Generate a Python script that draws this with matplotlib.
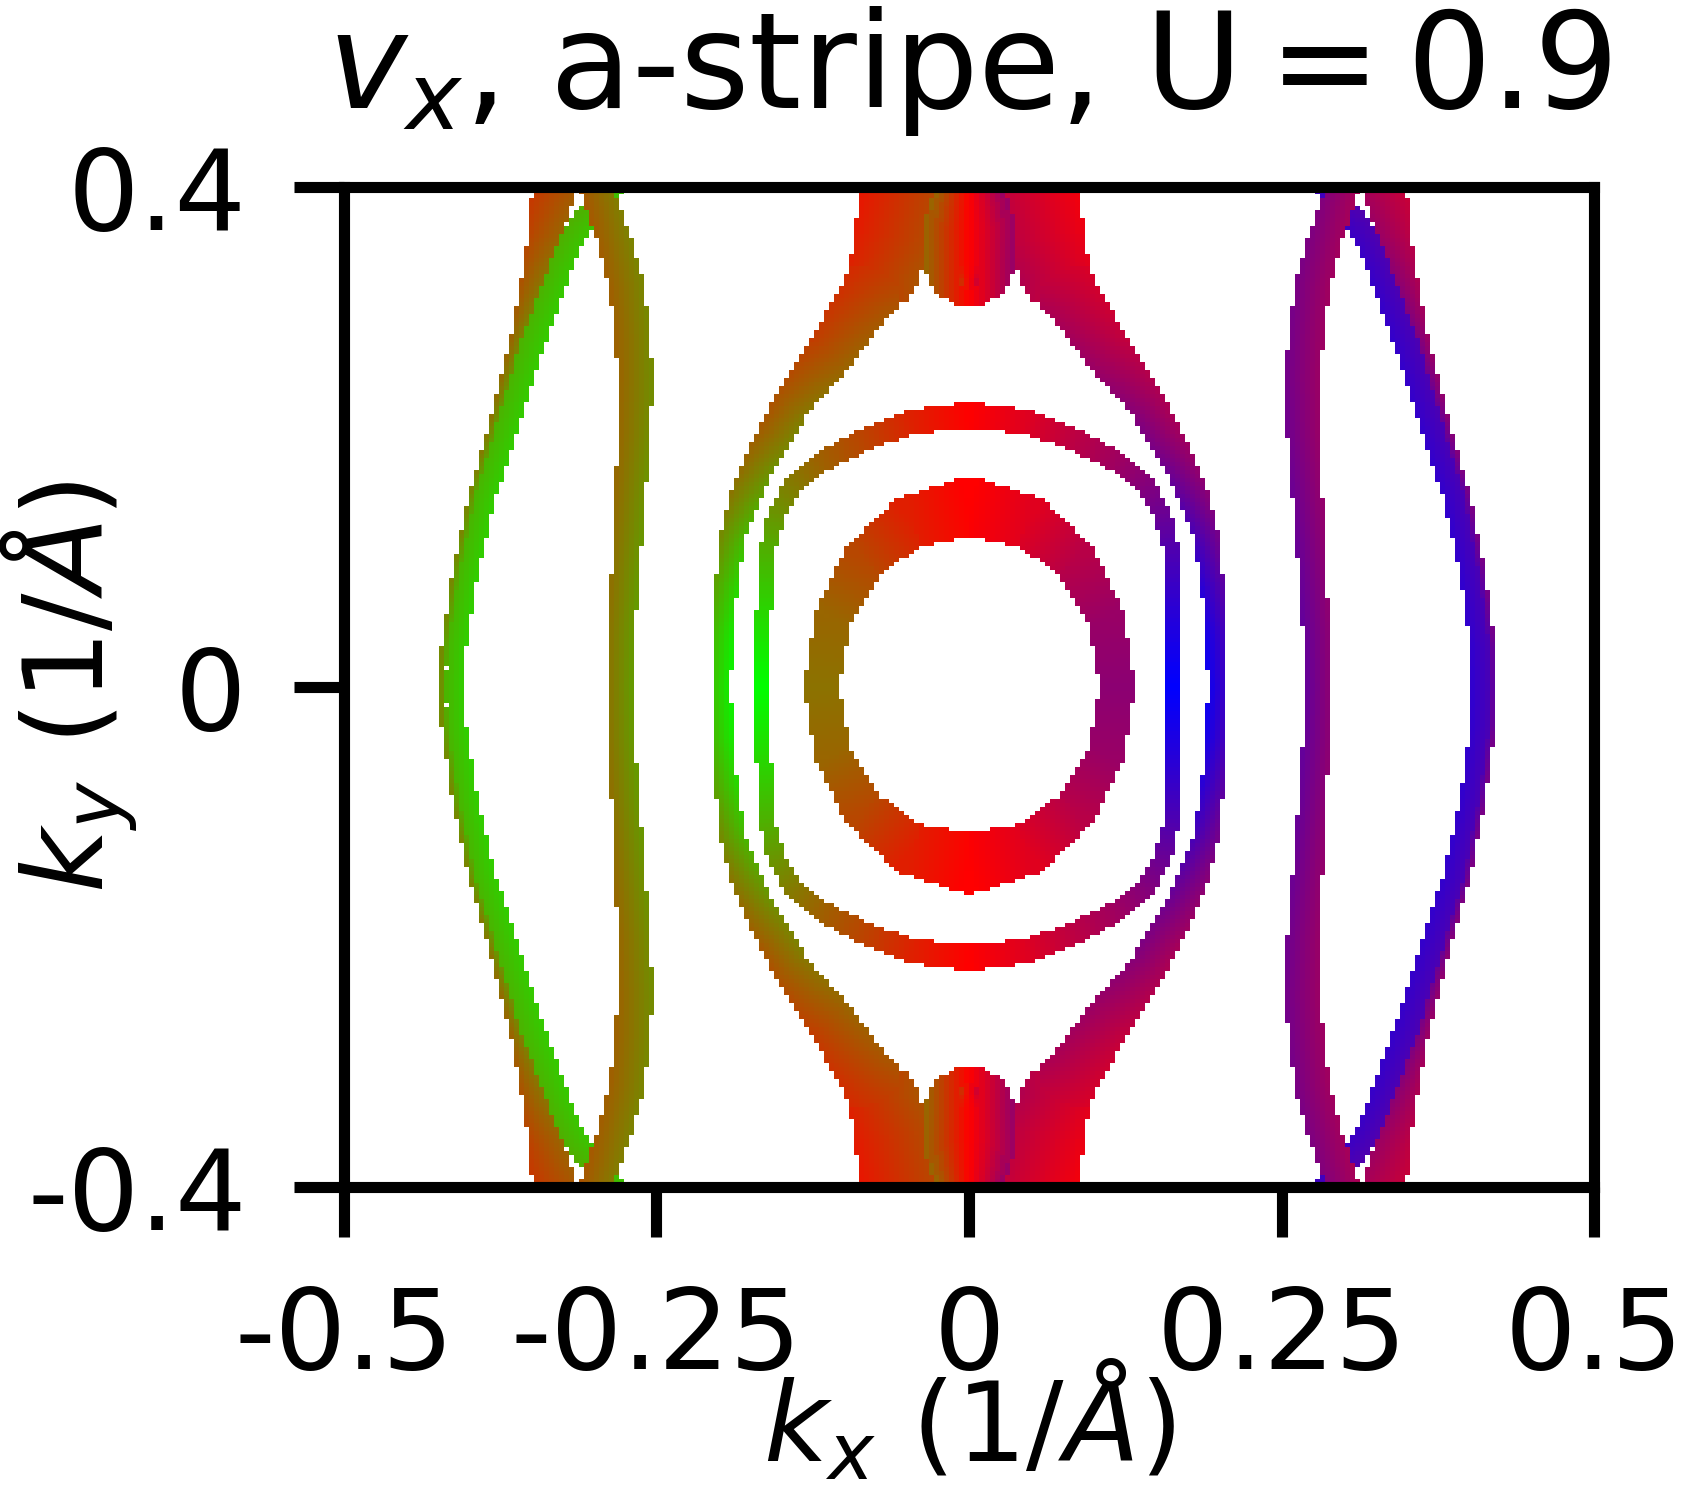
import numpy as np
import matplotlib
matplotlib.use('Agg')
import matplotlib.pyplot as plt

# Fermi-surface sheets.
# each row: (kx, ky, half width of the drawn band, v_x), k in 1/Å,
# v_x scaled to [-1, 1]: -1 pure green, 0 red, +1 pure blue
ring_inner = [
    (0.000, 0.143, 0.024, 0.00), (-0.046, 0.132, 0.021, -0.12),
    (-0.084, 0.101, 0.017, -0.28), (-0.109, 0.055, 0.0145, -0.40),
    (-0.118, 0.000, 0.014, -0.45), (-0.109, -0.054, 0.0145, -0.40),
    (-0.084, -0.099, 0.017, -0.28), (-0.046, -0.130, 0.021, -0.12),
    (0.000, -0.141, 0.024, 0.00), (0.046, -0.130, 0.021, 0.12),
    (0.084, -0.099, 0.017, 0.28), (0.109, -0.054, 0.0145, 0.40),
    (0.118, 0.000, 0.014, 0.45), (0.109, 0.055, 0.0145, 0.40),
    (0.084, 0.101, 0.017, 0.28), (0.046, 0.132, 0.021, 0.12),
    (0.000, 0.143, 0.024, 0.00),
]

ring_mid = [
    (0.000, 0.217, 0.0105, 0.00), (-0.046, 0.211, 0.0098, -0.13),
    (-0.082, 0.198, 0.0090, -0.26), (-0.118, 0.179, 0.0080, -0.38),
    (-0.140, 0.161, 0.0074, -0.48), (-0.154, 0.138, 0.0068, -0.58),
    (-0.162, 0.105, 0.0063, -0.70), (-0.164, 0.060, 0.0060, -0.84),
    (-0.164, 0.000, 0.0060, -1.00), (-0.164, -0.060, 0.0060, -0.84),
    (-0.162, -0.105, 0.0063, -0.70), (-0.154, -0.138, 0.0068, -0.58),
    (-0.140, -0.161, 0.0074, -0.48), (-0.118, -0.179, 0.0080, -0.38),
    (-0.082, -0.198, 0.0090, -0.26), (-0.046, -0.211, 0.0098, -0.13),
    (0.000, -0.217, 0.0105, 0.00), (0.046, -0.211, 0.0098, 0.13),
    (0.082, -0.198, 0.0090, 0.26), (0.118, -0.179, 0.0080, 0.38),
    (0.140, -0.161, 0.0074, 0.48), (0.154, -0.138, 0.0068, 0.58),
    (0.162, -0.105, 0.0063, 0.70), (0.164, -0.060, 0.0060, 0.84),
    (0.164, 0.000, 0.0060, 1.00), (0.164, 0.060, 0.0060, 0.84),
    (0.162, 0.105, 0.0063, 0.70), (0.154, 0.138, 0.0068, 0.58),
    (0.140, 0.161, 0.0074, 0.48), (0.118, 0.179, 0.0080, 0.38),
    (0.082, 0.198, 0.0090, 0.26), (0.046, 0.211, 0.0098, 0.13),
    (0.000, 0.217, 0.0105, 0.00),
]

outer_left = [
    (-0.057, 0.400, 0.029, -0.18), (-0.062, 0.360, 0.030, -0.20),
    (-0.068, 0.330, 0.028, -0.23), (-0.082, 0.310, 0.0225, -0.26),
    (-0.096, 0.289, 0.021, -0.29), (-0.111, 0.266, 0.019, -0.32),
    (-0.127, 0.246, 0.017, -0.36), (-0.143, 0.224, 0.015, -0.40),
    (-0.155, 0.200, 0.014, -0.44), (-0.167, 0.180, 0.013, -0.48),
    (-0.179, 0.152, 0.012, -0.55), (-0.189, 0.119, 0.0098, -0.64),
    (-0.194, 0.080, 0.009, -0.74), (-0.197, 0.040, 0.008, -0.82),
    (-0.198, 0.000, 0.0076, -0.85), (-0.197, -0.040, 0.008, -0.82),
    (-0.194, -0.080, 0.009, -0.74), (-0.189, -0.119, 0.0098, -0.64),
    (-0.179, -0.152, 0.012, -0.55), (-0.167, -0.180, 0.013, -0.48),
    (-0.155, -0.200, 0.014, -0.44), (-0.143, -0.224, 0.015, -0.40),
    (-0.127, -0.246, 0.017, -0.36), (-0.111, -0.266, 0.019, -0.32),
    (-0.096, -0.289, 0.021, -0.29), (-0.082, -0.310, 0.0225, -0.26),
    (-0.068, -0.330, 0.028, -0.23), (-0.062, -0.360, 0.030, -0.20),
    (-0.057, -0.400, 0.029, -0.18),
]

outer_right = [
    (0.057, 0.400, 0.029, 0.14), (0.062, 0.360, 0.030, 0.17),
    (0.068, 0.330, 0.028, 0.21), (0.082, 0.310, 0.0225, 0.25),
    (0.096, 0.289, 0.021, 0.28), (0.111, 0.266, 0.019, 0.32),
    (0.127, 0.246, 0.017, 0.36), (0.143, 0.224, 0.015, 0.40),
    (0.155, 0.200, 0.014, 0.44), (0.167, 0.180, 0.013, 0.48),
    (0.179, 0.152, 0.012, 0.55), (0.189, 0.119, 0.0098, 0.64),
    (0.194, 0.080, 0.009, 0.74), (0.197, 0.040, 0.008, 0.82),
    (0.198, 0.000, 0.0076, 0.85), (0.197, -0.040, 0.008, 0.82),
    (0.194, -0.080, 0.009, 0.74), (0.189, -0.119, 0.0098, 0.64),
    (0.179, -0.152, 0.012, 0.55), (0.167, -0.180, 0.013, 0.48),
    (0.155, -0.200, 0.014, 0.44), (0.143, -0.224, 0.015, 0.40),
    (0.127, -0.246, 0.017, 0.36), (0.111, -0.266, 0.019, 0.32),
    (0.096, -0.289, 0.021, 0.28), (0.082, -0.310, 0.0225, 0.25),
    (0.068, -0.330, 0.028, 0.21), (0.062, -0.360, 0.030, 0.17),
    (0.057, -0.400, 0.029, 0.14),
]

pocket_top = [
    (0.000, 0.325, 0.014, 0.0), (0.000, 0.340, 0.036, 0.0),
    (0.000, 0.362, 0.037, 0.0), (0.000, 0.378, 0.032, 0.0),
    (0.000, 0.400, 0.026, 0.0),
]
pocket_bottom = [
    (0.000, -0.325, 0.014, 0.0), (0.000, -0.340, 0.036, 0.0),
    (0.000, -0.362, 0.037, 0.0), (0.000, -0.378, 0.032, 0.0),
    (0.000, -0.400, 0.026, 0.0),
]

# left lens: curved branch, its reddish outer edge, straight branch
lens_l_curved = [
    (-0.285, 0.400, 0.0085, -0.72), (-0.301, 0.382, 0.009, -0.72),
    (-0.315, 0.363, 0.0093, -0.73), (-0.3275, 0.334, 0.0095, -0.74),
    (-0.347, 0.280, 0.0097, -0.75), (-0.366, 0.220, 0.0092, -0.75),
    (-0.387, 0.151, 0.0082, -0.76), (-0.401, 0.088, 0.0076, -0.76),
    (-0.410, 0.030, 0.0074, -0.76), (-0.411, 0.000, 0.0074, -0.76),
    (-0.410, -0.030, 0.0074, -0.76), (-0.401, -0.088, 0.0076, -0.76),
    (-0.387, -0.151, 0.0082, -0.76), (-0.366, -0.220, 0.0092, -0.75),
    (-0.347, -0.280, 0.0097, -0.75), (-0.3275, -0.334, 0.0095, -0.74),
    (-0.315, -0.363, 0.0093, -0.73), (-0.301, -0.382, 0.009, -0.72),
    (-0.285, -0.400, 0.0085, -0.72),
]
lens_l_edge = [
    (-0.3315, 0.400, 0.018, -0.28), (-0.339, 0.363, 0.013, -0.33),
    (-0.347, 0.334, 0.0095, -0.38), (-0.362, 0.280, 0.0045, -0.45),
    (-0.378, 0.220, 0.0028, -0.52), (-0.398, 0.151, 0.0025, -0.58),
    (-0.4110, 0.088, 0.0025, -0.60), (-0.4200, 0.030, 0.0025, -0.60),
    (-0.4210, 0.000, 0.0025, -0.60), (-0.4200, -0.030, 0.0025, -0.60),
    (-0.4110, -0.088, 0.0025, -0.60), (-0.398, -0.151, 0.0025, -0.58),
    (-0.378, -0.220, 0.0028, -0.52), (-0.362, -0.280, 0.0045, -0.45),
    (-0.347, -0.334, 0.0095, -0.38), (-0.339, -0.363, 0.013, -0.33),
    (-0.3315, -0.400, 0.018, -0.28),
]
lens_l_straight = [
    (-0.300, 0.400, 0.012, -0.40), (-0.292, 0.380, 0.013, -0.42),
    (-0.283, 0.355, 0.0135, -0.44), (-0.274, 0.320, 0.014, -0.45),
    (-0.269, 0.280, 0.014, -0.46), (-0.267, 0.246, 0.014, -0.47),
    (-0.268, 0.200, 0.013, -0.48), (-0.271, 0.150, 0.012, -0.50),
    (-0.275, 0.090, 0.011, -0.52), (-0.278, 0.040, 0.0105, -0.53),
    (-0.279, 0.000, 0.010, -0.53), (-0.278, -0.040, 0.0105, -0.53),
    (-0.275, -0.090, 0.011, -0.52), (-0.271, -0.150, 0.012, -0.50),
    (-0.268, -0.200, 0.013, -0.48), (-0.267, -0.246, 0.014, -0.47),
    (-0.269, -0.280, 0.014, -0.46), (-0.274, -0.320, 0.014, -0.45),
    (-0.283, -0.355, 0.0135, -0.44), (-0.292, -0.380, 0.013, -0.42),
    (-0.300, -0.400, 0.012, -0.40),
]

# right lens
lens_r_curved = [
    (0.285, 0.400, 0.0085, 0.72), (0.301, 0.382, 0.009, 0.72),
    (0.315, 0.363, 0.0093, 0.73), (0.3275, 0.334, 0.0095, 0.74),
    (0.347, 0.280, 0.0097, 0.75), (0.366, 0.220, 0.0092, 0.75),
    (0.387, 0.151, 0.0082, 0.76), (0.400, 0.088, 0.0076, 0.76),
    (0.408, 0.030, 0.0074, 0.76), (0.409, 0.000, 0.0074, 0.76),
    (0.408, -0.030, 0.0074, 0.76), (0.400, -0.088, 0.0076, 0.76),
    (0.387, -0.151, 0.0082, 0.76), (0.366, -0.220, 0.0092, 0.75),
    (0.347, -0.280, 0.0097, 0.75), (0.3275, -0.334, 0.0095, 0.74),
    (0.315, -0.363, 0.0093, 0.73), (0.301, -0.382, 0.009, 0.72),
    (0.285, -0.400, 0.0085, 0.72),
]
lens_r_edge = [
    (0.3315, 0.400, 0.018, 0.28), (0.339, 0.363, 0.013, 0.33),
    (0.347, 0.334, 0.0095, 0.38), (0.362, 0.280, 0.0045, 0.45),
    (0.378, 0.220, 0.0028, 0.52), (0.398, 0.151, 0.0025, 0.58),
    (0.4100, 0.088, 0.0025, 0.60), (0.4180, 0.030, 0.0025, 0.60),
    (0.4190, 0.000, 0.0025, 0.60), (0.4180, -0.030, 0.0025, 0.60),
    (0.4100, -0.088, 0.0025, 0.60), (0.398, -0.151, 0.0025, 0.58),
    (0.378, -0.220, 0.0028, 0.52), (0.362, -0.280, 0.0045, 0.45),
    (0.347, -0.334, 0.0095, 0.38), (0.339, -0.363, 0.013, 0.33),
    (0.3315, -0.400, 0.018, 0.28),
]
lens_r_straight = [
    (0.300, 0.400, 0.012, 0.40), (0.292, 0.380, 0.013, 0.42),
    (0.283, 0.355, 0.0135, 0.44), (0.274, 0.320, 0.014, 0.45),
    (0.269, 0.280, 0.014, 0.46), (0.266, 0.246, 0.014, 0.47),
    (0.267, 0.200, 0.013, 0.48), (0.270, 0.150, 0.012, 0.50),
    (0.274, 0.090, 0.011, 0.52), (0.277, 0.040, 0.0105, 0.53),
    (0.278, 0.000, 0.010, 0.53), (0.277, -0.040, 0.0105, 0.53),
    (0.274, -0.090, 0.011, 0.52), (0.270, -0.150, 0.012, 0.50),
    (0.267, -0.200, 0.013, 0.48), (0.266, -0.246, 0.014, 0.47),
    (0.269, -0.280, 0.014, 0.46), (0.274, -0.320, 0.014, 0.45),
    (0.283, -0.355, 0.0135, 0.44), (0.292, -0.380, 0.013, 0.42),
    (0.300, -0.400, 0.012, 0.40),
]

# change of v_x across each band (edge to edge), paint order
sheets = [
    (outer_left, -0.10), (outer_right, -0.10),
    (pocket_top, 0.42), (pocket_bottom, 0.42),
    (ring_inner, 0.0), (ring_mid, 0.0),
    (lens_l_curved, -0.05), (lens_l_edge, -0.075), (lens_l_straight, -0.08),
    (lens_r_curved, -0.05), (lens_r_edge, -0.075), (lens_r_straight, -0.08),
]

xticks = [-0.5, -0.25, 0, 0.25, 0.5]
xticklabels = ['-0.5', '-0.25', '0', '0.25', '0.5']
yticks = [-0.4, 0, 0.4]
yticklabels = ['-0.4', '0', '0.4']

# k grid of the map
nx, ny = 250, 250
xe = np.linspace(-0.5, 0.5, nx + 1)
ye = np.linspace(-0.4, 0.4, ny + 1)
KX, KY = np.meshgrid(0.5 * (xe[1:] + xe[:-1]), 0.5 * (ye[1:] + ye[:-1]))

img = np.ones((ny, nx, 3))


def paint(pts, grad):
    p = np.asarray(pts, dtype=float)
    best = np.full(KX.shape, np.inf)
    vv = np.zeros(KX.shape)
    for a, b in zip(p[:-1], p[1:]):
        x0, y0, h0, v0 = a
        x1, y1, h1, v1 = b
        dx, dy = x1 - x0, y1 - y0
        l2 = dx * dx + dy * dy
        t = np.clip(((KX - x0) * dx + (KY - y0) * dy) / l2, 0, 1)
        px = x0 + t * dx
        py = y0 + t * dy
        h = h0 + t * (h1 - h0)
        r = np.hypot(KX - px, KY - py) / h
        v = v0 + t * (v1 - v0) + grad * (KX - px) / h
        m = r < best
        best[m] = r[m]
        vv[m] = v[m]
    inside = best <= 1
    v = np.clip(vv[inside], -1, 1)
    img[inside] = np.stack([1 - np.abs(v), np.clip(-v, 0, 1), np.clip(v, 0, 1)], axis=-1)


for pts, grad in sheets:
    paint(pts, grad)

fig = plt.figure(figsize=(16.82, 14.89), dpi=100)
ax = fig.add_axes([0.2045, 0.2028, 0.7432, 0.6716])
ax.imshow(img, extent=[-0.5, 0.5, -0.4, 0.4], origin='lower',
          interpolation='nearest', aspect='auto')
ax.set_xlim(-0.5, 0.5)
ax.set_ylim(-0.4, 0.4)

ax.set_xticks(xticks)
ax.set_xticklabels(xticklabels)
ax.set_yticks(yticks)
ax.set_yticklabels(yticklabels)
ax.tick_params(length=36, width=8, pad=34, labelsize=81, direction='out')
for s in ax.spines.values():
    s.set_linewidth(8)

ax.set_title(r'$v_x$, a-stripe, U$=$0.9', fontsize=96, pad=57)
ax.set_xlabel(r'$k_x$ (1/$\AA$)', fontsize=80)
ax.set_ylabel(r'$k_y$ (1/$\AA$)', fontsize=80)
ax.xaxis.set_label_coords(0.5, -0.172)
ax.yaxis.set_label_coords(-0.163, 0.5)

fig.savefig('out.png', dpi=100)
